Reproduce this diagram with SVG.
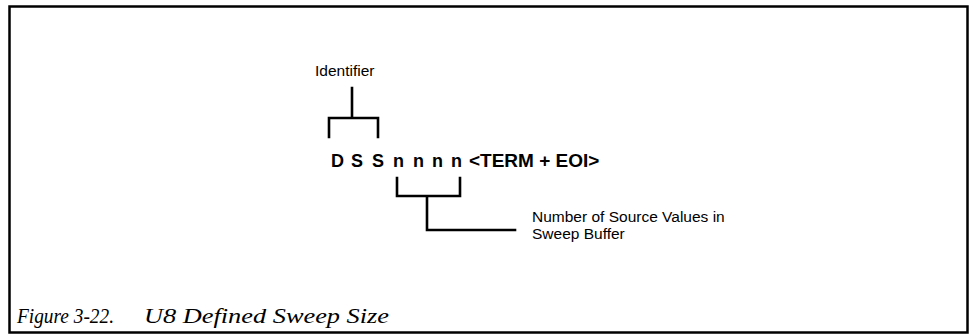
<svg xmlns="http://www.w3.org/2000/svg" width="970" height="335" viewBox="0 0 970 335">
<style>
.frame{fill:none;stroke:#000;stroke-width:2.5}
.br{fill:none;stroke:#000;stroke-width:2.6;stroke-linecap:square;stroke-linejoin:miter}
.lbl{font-family:"Liberation Sans",Arial,sans-serif;font-size:15.5px;fill:#000}
.cmd{font-family:"Liberation Sans",Arial,sans-serif;font-size:18px;font-weight:bold;fill:#000}
.term{font-size:19px}
.cap{font-family:"Liberation Serif","Times New Roman",serif;font-style:italic;font-size:21px;fill:#000}
</style>
<rect class="frame" x="9.5" y="6.5" width="958" height="326"/>
<g id="identifier">
<text class="lbl" x="315" y="76">Identifier</text>
</g>
<g id="command">
<text class="cmd" y="167"><tspan x="331">D</tspan><tspan x="351">S</tspan><tspan x="372">S</tspan><tspan x="393">n</tspan><tspan x="413">n</tspan><tspan x="432">n</tspan><tspan x="451">n</tspan><tspan class="term" x="469">&lt;TERM + EOI&gt;</tspan></text>
</g>
<g id="count-label">
<text class="lbl" x="532" y="222">Number of Source Values in</text>
<text class="lbl" x="532" y="239">Sweep Buffer</text>
</g>
<g id="connectors">
<path class="br" d="M352,88 V118 M329,137 V118 H378 V137"/>
<path class="br" d="M397,178 V196 H460 V178 M427,196 V230 H515"/>
</g>
<g id="caption">
<text class="cap" x="17" y="323" textLength="97" lengthAdjust="spacingAndGlyphs">Figure 3-22.</text>
<text class="cap" x="144" y="323" textLength="245" lengthAdjust="spacingAndGlyphs">U8 Defined Sweep Size</text>
</g>
</svg>
